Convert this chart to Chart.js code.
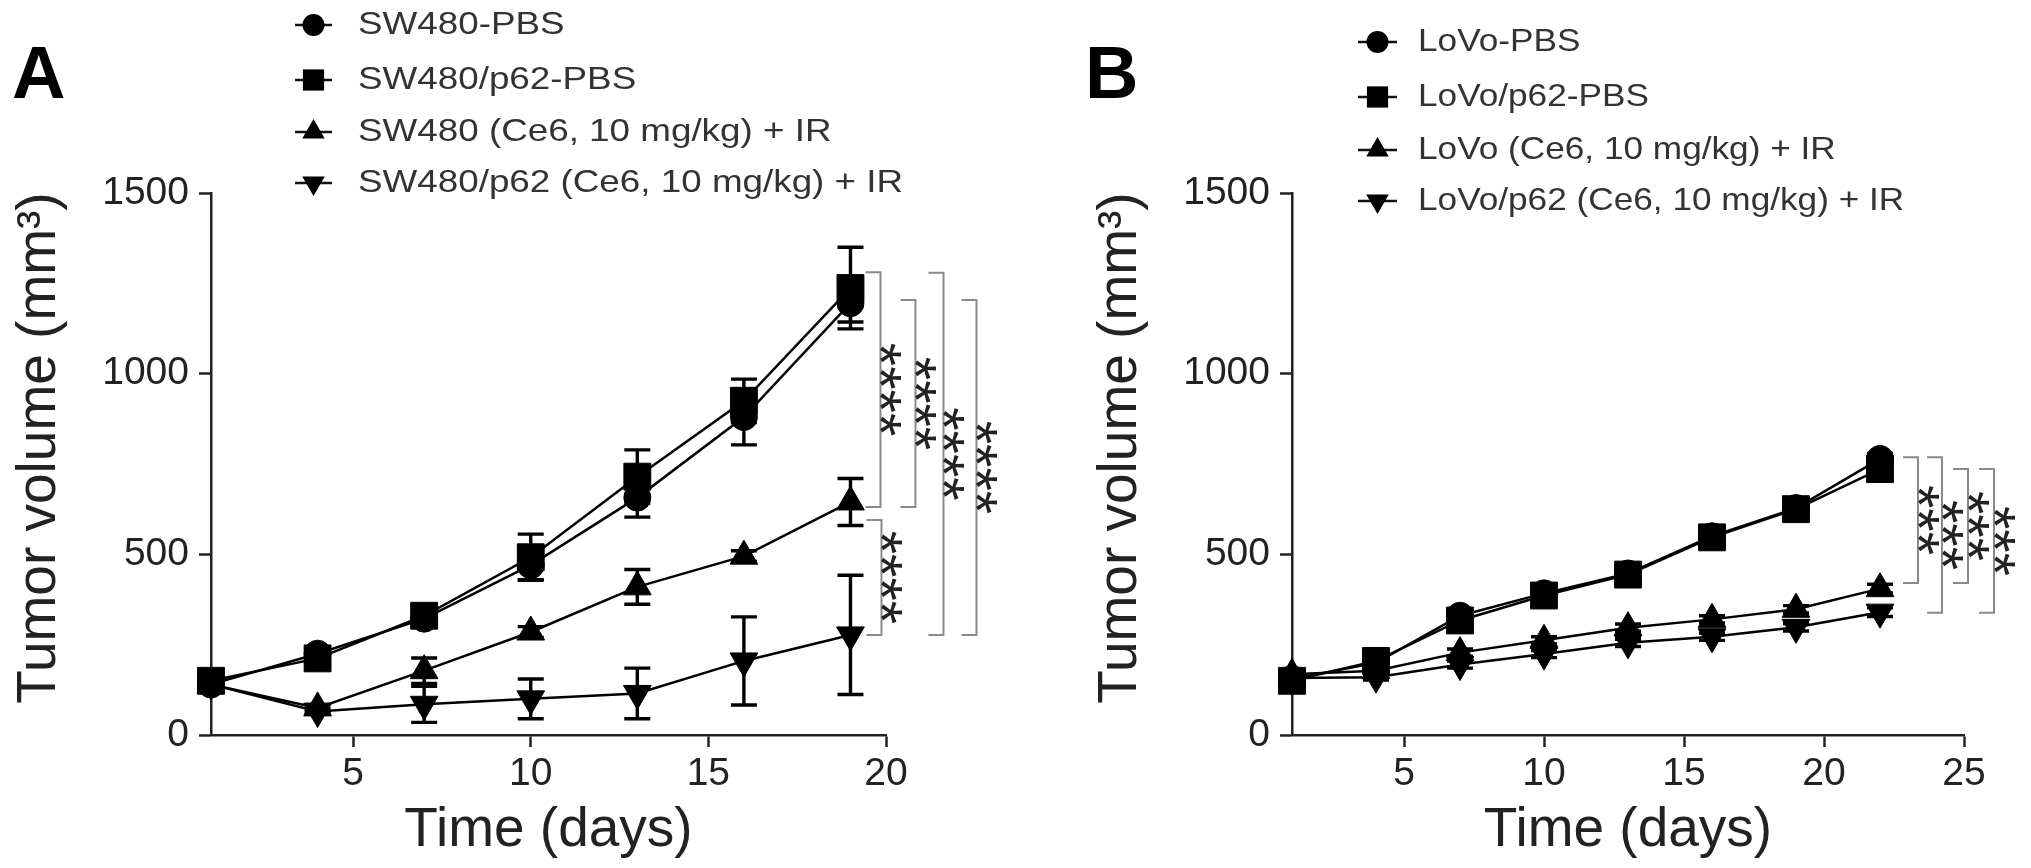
<!DOCTYPE html>
<html>
<head>
<meta charset="utf-8">
<script src="https://cdn.jsdelivr.net/npm/chart.js@4.4.1/dist/chart.umd.min.js"></script>
<style>
  html, body { margin: 0; padding: 0; background: #fff; }
  #wrap { position: relative; width: 2031px; height: 868px; overflow: hidden; }
  canvas { position: absolute; top: 0; }
</style>
</head>
<body>
<div id="wrap">
  <canvas id="panelA" width="1015" height="868" style="left:0px"></canvas>
  <canvas id="panelB" width="1016" height="868" style="left:1015px"></canvas>
</div>
<script>
// ---- data ----
const daysA = [1, 4, 7, 10, 13, 16, 19];
const labelsA = ['SW480-PBS', 'SW480/p62-PBS', 'SW480 (Ce6, 10 mg/kg) + IR', 'SW480/p62 (Ce6, 10 mg/kg) + IR'];
const swPbs      = [140, 225, 322, 470, 657, 880, 1195];
const swPbsErr   = [10, 15, 18, 40, 54, 77, 52];
const swP62      = [150, 212, 330, 492, 715, 925, 1237];
const swP62Err   = [12, 18, 25, 64, 74, 60, 113];
const swCe6      = [140, 75, 178, 285, 410, 495, 645];
const swCe6Err   = [10, 10, 35, 15, 48, 15, 65];
const swP62Ce6   = [140, 65, 85, 100, 115, 205, 277];
const swP62Ce6Err = [10, 8, 50, 55, 70, 122, 165];

const daysB = [1, 4, 7, 10, 13, 16, 19, 22];
const labelsB = ['LoVo-PBS', 'LoVo/p62-PBS', 'LoVo (Ce6, 10 mg/kg) + IR', 'LoVo/p62 (Ce6, 10 mg/kg) + IR'];
const lvPbs      = [155, 200, 330, 392, 447, 550, 628, 764];
const lvPbsErr   = [8, 10, 12, 12, 12, 14, 14, 15];
const lvP62      = [150, 205, 317, 386, 444, 547, 625, 736];
const lvP62Err   = [8, 10, 14, 12, 12, 14, 14, 15];
const lvCe6      = [168, 178, 228, 262, 297, 320, 348, 405];
const lvCe6Err   = [8, 8, 10, 10, 10, 10, 10, 12];
const lvP62Ce6   = [158, 160, 195, 224, 255, 272, 298, 340];
const lvP62Ce6Err = [8, 8, 10, 10, 10, 10, 10, 12];

const xTicksA = [5, 10, 15, 20];
const xTicksB = [5, 10, 15, 20, 25];
const yMax = 1500;
const yStep = 500;
const yTitle = 'Tumor volume (mm\u00B3)';
const xTitle = 'Time (days)';

// significance brackets: [upper value, lower value, label]
const sigA = [[1281, 631, '****'], [1204, 631, '****'], [1279, 277, '****'], [1204, 277, '****'], [595, 277, '****']];
const sigB = [[769, 421, '***'], [769, 338, '***'], [736, 421, '***'], [736, 338, '***']];

// ---- styles ----
const FONT = '"Liberation Sans", Arial, Helvetica, sans-serif';
const AXIS = '#222';
const markers = [
  { style: 'circle', radius: 13.5, rotation: 0, legendRadius: 11 },
  { style: 'rect', radius: 19, rotation: 0, legendRadius: 15 },
  { style: 'triangle', radius: 16, rotation: 0, legendRadius: 13 },
  { style: 'triangle', radius: 16, rotation: 180, legendRadius: 13 }
];

function drawMarker(ctx, m, x, y, r) {
  ctx.beginPath();
  if (m.style === 'circle') {
    ctx.arc(x, y, r, 0, Math.PI * 2);
  } else if (m.style === 'rect') {
    const s = r * Math.SQRT1_2;
    ctx.rect(x - s, y - s, 2 * s, 2 * s);
  } else {
    let a = m.rotation * Math.PI / 180;
    for (let k = 0; k < 3; k++) {
      const px = x + Math.sin(a) * r, py = y - Math.cos(a) * r;
      k === 0 ? ctx.moveTo(px, py) : ctx.lineTo(px, py);
      a += 2 * Math.PI / 3;
    }
    ctx.closePath();
  }
  ctx.fill();
}

function makePanel(id, cfg) {
  const datasets = cfg.series.map((s, i) => ({
    label: cfg.labels[i],
    data: cfg.days.map((d, k) => ({ x: d, y: s.values[k] })),
    errors: s.errors,
    borderColor: '#000',
    backgroundColor: '#000',
    borderWidth: 2.5,
    pointStyle: markers[i].style,
    pointRadius: markers[i].radius,
    pointRotation: markers[i].rotation,
    pointBackgroundColor: '#000',
    pointBorderColor: '#000',
    pointBorderWidth: 1,
    tension: 0,
    fill: false,
    clip: false
  }));

  const errorBars = {
    id: 'errorBars',
    beforeDatasetsDraw(chart) {
      const { ctx, scales: { x, y } } = chart;
      ctx.save();
      ctx.strokeStyle = '#000';
      ctx.lineWidth = 3.4;
      chart.data.datasets.forEach(ds => {
        ds.data.forEach((p, k) => {
          const e = ds.errors[k];
          const px = x.getPixelForValue(p.x);
          const yt = y.getPixelForValue(p.y + e);
          const yb = y.getPixelForValue(p.y - e);
          ctx.beginPath();
          ctx.moveTo(px, yt); ctx.lineTo(px, yb);
          ctx.moveTo(px - 13, yt); ctx.lineTo(px + 13, yt);
          ctx.moveTo(px - 13, yb); ctx.lineTo(px + 13, yb);
          ctx.stroke();
        });
      });
      ctx.restore();
    }
  };

  const extras = {
    id: 'extras',
    afterDraw(chart) {
      const { ctx, scales: { x, y } } = chart;
      ctx.save();
      // y axis title, sitting a little above the axis centre as in the figure
      ctx.save();
      ctx.translate(y.left + 40, (y.top + y.bottom) / 2 - 16);
      ctx.rotate(-Math.PI / 2);
      ctx.fillStyle = '#222';
      ctx.font = '55px ' + FONT;
      ctx.textAlign = 'center';
      ctx.textBaseline = 'middle';
      ctx.fillText(yTitle, 0, 0);
      ctx.restore();
      // brackets
      const lastX = x.getPixelForValue(cfg.days[cfg.days.length - 1]);
      cfg.sig.forEach((b, k) => {
        const bx = lastX + cfg.sigOffsets[k];
        const y1 = y.getPixelForValue(b[0]);
        const y2 = y.getPixelForValue(b[1]);
        ctx.strokeStyle = '#8a8a8a';
        ctx.lineWidth = 2;
        ctx.beginPath();
        ctx.moveTo(bx - 15, y1); ctx.lineTo(bx, y1); ctx.lineTo(bx, y2); ctx.lineTo(bx - 15, y2);
        ctx.stroke();
        ctx.save();
        ctx.translate(bx + 14, (y1 + y2) / 2);
        ctx.rotate(Math.PI / 2);
        ctx.fillStyle = '#222';
        ctx.font = '60px ' + FONT;
        ctx.textAlign = 'center';
        ctx.textBaseline = 'alphabetic';
        ctx.fillText(b[2], 0, 0.57 * 60);
        ctx.restore();
      });
      // legend (the figure's legend type is a little wider than plain Arial)
      cfg.labels.forEach((t, i) => {
        const ly = cfg.legendY[i];
        ctx.strokeStyle = '#111';
        ctx.lineWidth = 2.5;
        ctx.beginPath();
        ctx.moveTo(cfg.legendLine[0], ly); ctx.lineTo(cfg.legendLine[1], ly);
        ctx.stroke();
        ctx.fillStyle = '#000';
        drawMarker(ctx, markers[i], (cfg.legendLine[0] + cfg.legendLine[1]) / 2, ly, markers[i].legendRadius);
        ctx.save();
        ctx.translate(cfg.legendText, ly);
        ctx.scale(cfg.legendStretch, 1);
        ctx.fillStyle = '#333';
        ctx.font = '32px ' + FONT;
        ctx.textAlign = 'left';
        ctx.textBaseline = 'middle';
        ctx.fillText(t, 0, 0);
        ctx.restore();
      });
      // panel letter
      ctx.fillStyle = '#000';
      ctx.font = 'bold 74px ' + FONT;
      ctx.textAlign = 'left';
      ctx.textBaseline = 'alphabetic';
      ctx.fillText(cfg.letter, cfg.letterX, 98);
      ctx.restore();
    }
  };

  return new Chart(document.getElementById(id), {
    type: 'line',
    data: { datasets },
    options: {
      responsive: false,
      animation: false,
      devicePixelRatio: 1,
      layout: { padding: { top: 193, bottom: 0, left: cfg.padLeft, right: cfg.padRight } },
      plugins: { legend: { display: false }, tooltip: { enabled: false } },
      scales: {
        x: {
          type: 'linear',
          min: cfg.days[0],
          max: cfg.xTicks[cfg.xTicks.length - 1],
          afterBuildTicks: s => { s.ticks = cfg.xTicks.map(v => ({ value: v })); },
          afterFit: s => { s.height = 133; },
          border: { display: true, color: AXIS, width: 2.5 },
          grid: { display: true, drawOnChartArea: false, drawTicks: true, tickLength: 12, tickWidth: 2.5, tickColor: AXIS },
          ticks: { color: '#222', font: { family: FONT, size: 39 }, padding: 4, maxRotation: 0, autoSkip: false },
          title: { display: true, text: xTitle, color: '#222', font: { family: FONT, size: 55 }, padding: { top: 0, bottom: 4 } }
        },
        y: {
          min: 0,
          max: yMax,
          afterFit: s => { s.width = 211; },
          border: { display: true, color: AXIS, width: 2.5 },
          grid: { display: true, drawOnChartArea: false, drawTicks: true, tickLength: 12, tickWidth: 2.5, tickColor: AXIS },
          ticks: { stepSize: yStep, color: '#222', font: { family: FONT, size: 39 }, padding: 10, callback: v => String(v) },
          title: { display: false }
        }
      }
    },
    plugins: [errorBars, extras]
  });
}

makePanel('panelA', {
  days: daysA,
  labels: labelsA,
  series: [
    { values: swPbs, errors: swPbsErr },
    { values: swP62, errors: swP62Err },
    { values: swCe6, errors: swCe6Err },
    { values: swP62Ce6, errors: swP62Ce6Err }
  ],
  xTicks: xTicksA,
  sig: sigA,
  sigOffsets: [30, 65, 93, 126, 31],
  padLeft: 0,
  padRight: 129,
  legendLine: [295, 332],
  legendText: 358,
  legendStretch: 1.15,
  legendY: [25, 80, 132, 183],
  letter: 'A',
  letterX: 12
});

makePanel('panelB', {
  days: daysB,
  labels: labelsB,
  series: [
    { values: lvPbs, errors: lvPbsErr },
    { values: lvP62, errors: lvP62Err },
    { values: lvCe6, errors: lvCe6Err },
    { values: lvP62Ce6, errors: lvP62Ce6Err }
  ],
  xTicks: xTicksB,
  sig: sigB,
  sigOffsets: [38, 62, 88, 114],
  padLeft: 66,
  padRight: 67,
  legendLine: [343, 382],
  legendText: 403,
  legendStretch: 1.1,
  legendY: [42, 97, 150, 201],
  letter: 'B',
  letterX: 70
});
</script>
</body>
</html>
